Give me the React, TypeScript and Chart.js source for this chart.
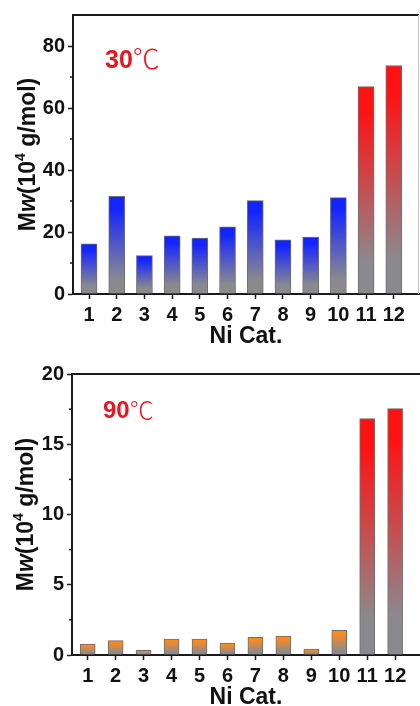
import React, { useEffect, useRef } from 'react';
import { Chart, registerables } from 'chart.js';

Chart.register(...registerables);

// ---- data ----
const catalysts = ['1', '2', '3', '4', '5', '6', '7', '8', '9', '10', '11', '12'];
const mw30C = [16.2, 31.5, 12.4, 18.8, 18.0, 21.7, 30.1, 17.5, 18.4, 31.1, 66.9, 73.7];
const mw90C = [0.78, 1.02, 0.33, 1.14, 1.14, 0.85, 1.26, 1.35, 0.43, 1.76, 16.82, 17.53];
const catalystGroup = ['A', 'A', 'A', 'A', 'A', 'A', 'A', 'A', 'A', 'A', 'B', 'B'];
const yTicks30C = [0, 20, 40, 60, 80];
const yTicks90C = [0, 5, 10, 15, 20];

// ---- styles ----
const SANS = '"Liberation Sans", Arial, Helvetica, sans-serif';
const GRAY = '#8a8a8e';
const RED = '#ff1212';
const BLUE = '#1424ff';
const ORANGE = '#ff8a1c';
const LABEL_RED = '#e8141e';

type Panel = {
  values: number[];
  groupColors: Record<string, string>;
  yMax: number;
  yTicks: number[];
  minorStep: number;
  tempText: string;
  canvasH: number;
  left: number;
  top: number;
  bottom: number;
  right: number;
  xMin: number;
  xMax: number;
  barW: number;
  titleBaseX: number;
  labelX: number;
  labelY: number;
  labelSize: number;
  degSize: number;
  rightBorder: string | null;
};

const panels: Panel[] = [
  {
    values: mw30C,
    groupColors: { A: BLUE, B: RED },
    yMax: 90,
    yTicks: yTicks30C,
    minorStep: 20,
    tempText: '30',
    canvasH: 350,
    left: 73,
    top: 15,
    bottom: 294,
    right: 419,
    xMin: 0.422,
    xMax: 12.91,
    barW: 16,
    titleBaseX: 34.5,
    labelX: 32,
    labelY: 53,
    labelSize: 25,
    degSize: 27,
    rightBorder: '#c8c8c8',
  },
  {
    values: mw90C,
    groupColors: { A: ORANGE, B: RED },
    yMax: 20,
    yTicks: yTicks90C,
    minorStep: 5,
    tempText: '90',
    canvasH: 361,
    left: 72,
    top: 24,
    bottom: 305,
    right: 420,
    xMin: 0.438,
    xMax: 12.89,
    barW: 15,
    titleBaseX: 32.5,
    labelX: 31,
    labelY: 44,
    labelSize: 24,
    degSize: 24,
    rightBorder: null,
  },
];

function ChartPanel({ p }: { p: Panel }) {
  const ref = useRef<HTMLCanvasElement | null>(null);

  useEffect(() => {
    const canvas = ref.current;
    if (!canvas) return;

    const decor = {
      id: 'decor',
      afterDraw(chart: any) {
        const ctx = chart.ctx as CanvasRenderingContext2D;
        const ca = chart.chartArea;
        const ys = chart.scales.y;
        ctx.save();
        // frame top / right
        ctx.strokeStyle = '#1a1a1a';
        ctx.lineWidth = 2;
        ctx.beginPath();
        ctx.moveTo(ca.left, ca.top);
        ctx.lineTo(ca.right, ca.top);
        ctx.stroke();
        if (p.rightBorder) {
          ctx.strokeStyle = p.rightBorder;
          ctx.lineWidth = 1;
          ctx.beginPath();
          ctx.moveTo(ca.right - 0.5, ca.top);
          ctx.lineTo(ca.right - 0.5, ca.bottom);
          ctx.stroke();
        }
        // minor ticks
        ctx.strokeStyle = '#1a1a1a';
        ctx.lineWidth = 1.5;
        for (let v = p.minorStep / 2; v < p.yMax; v += p.minorStep) {
          const py = ys.getPixelForValue(v);
          ctx.beginPath();
          ctx.moveTo(ca.left, py);
          ctx.lineTo(ca.left - 3, py);
          ctx.stroke();
        }
        // y title (rich text)
        const size = 23;
        const segs = [
          { t: 'M', f: `bold ${size}px ${SANS}`, dy: 0 },
          { t: 'w', f: `italic bold ${size}px ${SANS}`, dy: 0 },
          { t: '(10', f: `bold ${size}px ${SANS}`, dy: 0 },
          { t: '4', f: `bold ${Math.round(size * 0.62)}px ${SANS}`, dy: -size * 0.42 },
          { t: ' g/mol)', f: `bold ${size}px ${SANS}`, dy: 0 },
        ];
        let total = 0;
        const widths = segs.map((s) => {
          ctx.font = s.f;
          const w = ctx.measureText(s.t).width;
          total += w;
          return w;
        });
        ctx.translate(p.titleBaseX, (ca.top + ca.bottom) / 2);
        ctx.rotate(-Math.PI / 2);
        ctx.fillStyle = '#111';
        ctx.textBaseline = 'alphabetic';
        ctx.textAlign = 'left';
        let x = -total / 2;
        segs.forEach((s, i) => {
          ctx.font = s.f;
          ctx.fillText(s.t, x, s.dy);
          x += widths[i];
        });
        ctx.restore();

        // temperature label
        ctx.save();
        ctx.fillStyle = LABEL_RED;
        ctx.textBaseline = 'alphabetic';
        ctx.textAlign = 'left';
        ctx.font = `bold ${p.labelSize}px ${SANS}`;
        const lx = ca.left + p.labelX;
        const ly = ca.top + p.labelY;
        ctx.fillText(p.tempText, lx, ly);
        const tw = ctx.measureText(p.tempText).width;
        ctx.font = `300 ${p.degSize}px "Noto Sans CJK SC", "DejaVu Sans", sans-serif`;
        ctx.fillText('\u2103', lx + tw, ly + 1);
        ctx.restore();
      },
    };

    const gradientFor = (context: any) => {
      const chart = context.chart;
      const i = context.dataIndex;
      const top = p.groupColors[catalystGroup[i]];
      if (!chart.chartArea || context.type !== 'data') return top;
      const ys = chart.scales.y;
      const y0 = ys.getPixelForValue(context.parsed.y);
      const y1 = ys.getPixelForValue(0);
      if (!isFinite(y0) || !isFinite(y1) || y1 - y0 < 1) return top;
      const g = chart.ctx.createLinearGradient(0, y0, 0, y1);
      g.addColorStop(0, top);
      g.addColorStop(0.12, top);
      g.addColorStop(0.85, GRAY);
      g.addColorStop(1, GRAY);
      return g;
    };

    const chart = new Chart(canvas, {
      type: 'bar',
      data: {
        datasets: [
          {
            data: p.values.map((v, i) => ({ x: i + 1, y: v })),
            backgroundColor: gradientFor,
            borderColor: 'rgba(60,60,60,0.75)',
            borderWidth: 1,
            borderSkipped: 'bottom',
            barThickness: p.barW,
          } as any,
        ],
      },
      options: {
        animation: false,
        responsive: false,
        devicePixelRatio: 1,
        layout: {
          padding: { left: 0, top: p.top, right: 420 - p.right, bottom: 0 },
        },
        plugins: {
          legend: { display: false },
          tooltip: { enabled: false },
        },
        scales: {
          x: {
            type: 'linear',
            offset: false,
            min: p.xMin,
            max: p.xMax,
            afterFit: (scale: any) => {
              scale.height = p.canvasH - p.bottom;
            },
            afterBuildTicks: (scale: any) => {
              scale.ticks = catalysts.map((_, i) => ({ value: i + 1 }));
            },
            ticks: {
              autoSkip: false,
              maxRotation: 0,
              padding: 4,
              color: '#111',
              font: { family: SANS, size: 20, weight: 'bold' },
              callback: (v: any) => catalysts[Math.round(Number(v)) - 1] ?? '',
            },
            grid: {
              display: true,
              offset: false,
              drawOnChartArea: false,
              drawTicks: true,
              tickLength: 5,
              tickWidth: 1.5,
              tickColor: '#1a1a1a',
            },
            border: { display: true, color: '#1a1a1a', width: 2 },
            title: {
              display: true,
              text: 'Ni Cat.',
              color: '#111',
              font: { family: SANS, size: 23, weight: 'bold' },
              padding: { top: 0, bottom: 0 },
            },
          },
          y: {
            type: 'linear',
            min: 0,
            max: p.yMax,
            afterFit: (scale: any) => {
              scale.width = p.left;
            },
            afterBuildTicks: (scale: any) => {
              scale.ticks = p.yTicks.map((v) => ({ value: v }));
            },
            ticks: {
              padding: 3,
              color: '#111',
              font: { family: SANS, size: 20, weight: 'bold' },
            },
            grid: {
              display: true,
              drawOnChartArea: false,
              drawTicks: true,
              tickLength: 5,
              tickWidth: 1.5,
              tickColor: '#1a1a1a',
            },
            border: { display: true, color: '#1a1a1a', width: 2 },
          },
        },
      } as any,
      plugins: [decor],
    });

    return () => chart.destroy();
  }, [p]);

  return (
    <canvas
      ref={ref}
      width={420}
      height={p.canvasH}
      style={{ display: 'block', width: 420, height: p.canvasH }}
    />
  );
}

export default function App() {
  return (
    <div
      style={{
        position: 'absolute',
        top: 0,
        left: 0,
        width: 420,
        height: 706,
        overflow: 'hidden',
        background: '#fff',
      }}
    >
      <ChartPanel p={panels[0]} />
      <ChartPanel p={panels[1]} />
    </div>
  );
}
